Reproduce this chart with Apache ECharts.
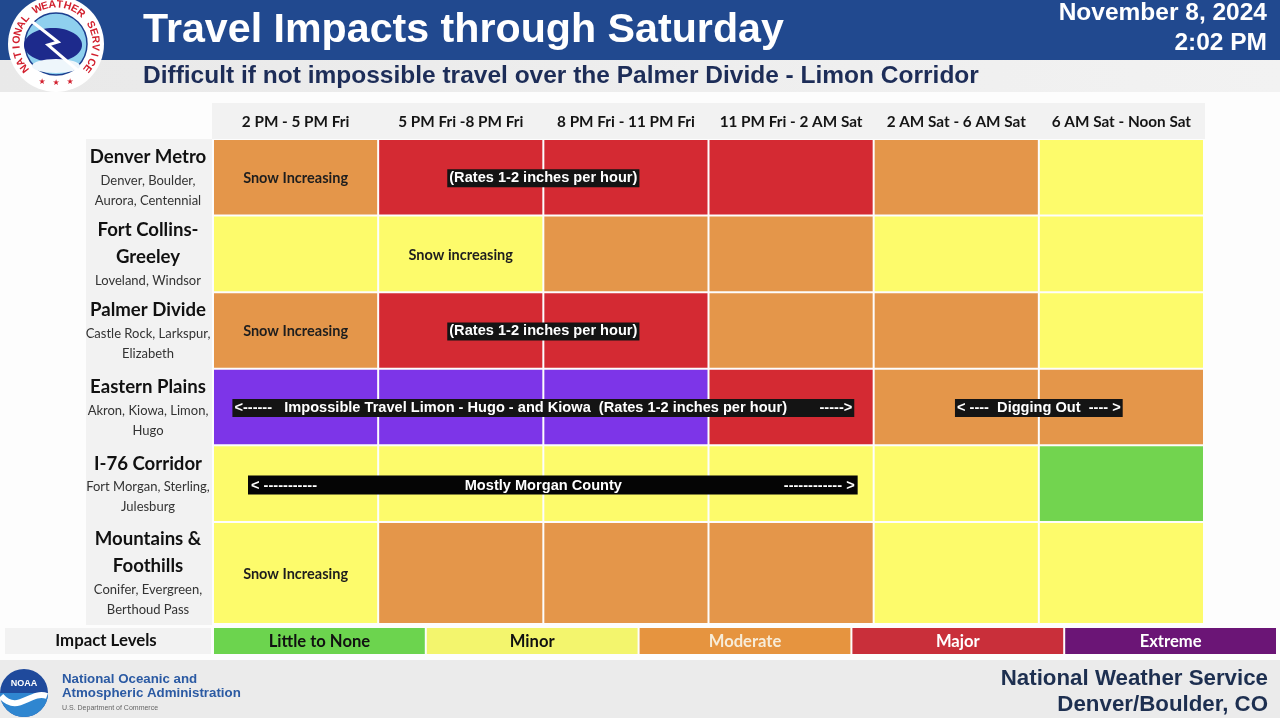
<!DOCTYPE html>
<html>
<head>
<meta charset="utf-8">
<script src="https://cdn.jsdelivr.net/npm/echarts@6/dist/echarts.min.js"></script>
<style>
html,body{margin:0;padding:0;background:#fdfdfd;}
#chart{width:1280px;height:718px;}
</style>
</head>
<body>
<div id="chart"></div>
<script>
// ---------- DATA ----------
const timePeriods = ['2 PM - 5 PM Fri', '5 PM Fri -8 PM Fri', '8 PM Fri - 11 PM Fri', '11 PM Fri - 2 AM Sat', '2 AM Sat - 6 AM Sat', '6 AM Sat - Noon Sat'];
const regionNames = [['Denver Metro'], ['Fort Collins-', 'Greeley'], ['Palmer Divide'], ['Eastern Plains'], ['I-76 Corridor'], ['Mountains &', 'Foothills']];
const regionTowns = [['Denver, Boulder,', 'Aurora, Centennial'], ['Loveland, Windsor'], ['Castle Rock, Larkspur,', 'Elizabeth'], ['Akron, Kiowa, Limon,', 'Hugo'], ['Fort Morgan, Sterling,', 'Julesburg'], ['Conifer, Evergreen,', 'Berthoud Pass']];
const impactLevels = ['Little to None', 'Minor', 'Moderate', 'Major', 'Extreme'];
// impact level index per time period (0 = Little to None ... 4 = Extreme)
const denverMetro   = [2, 3, 3, 3, 2, 1];
const fortCollins   = [1, 1, 2, 2, 1, 1];
const palmerDivide  = [2, 3, 3, 2, 2, 1];
const easternPlains = [4, 4, 4, 3, 2, 2];
const i76Corridor   = [1, 1, 1, 1, 1, 0];
const mountains     = [1, 2, 2, 2, 1, 1];
const impactRows = [denverMetro, fortCollins, palmerDivide, easternPlains, i76Corridor, mountains];
// cell notes: [row, first period, last period, text, kind]
const cellNotes = [
  [0, 0, 0, 'Snow Increasing', 'plain'],
  [0, 1, 2, '(Rates 1-2 inches per hour)', 'tag'],
  [1, 1, 1, 'Snow increasing', 'plain'],
  [2, 0, 0, 'Snow Increasing', 'plain'],
  [2, 1, 2, '(Rates 1-2 inches per hour)', 'tag'],
  [3, 0, 3, '<------   Impossible Travel Limon - Hugo - and Kiowa  (Rates 1-2 inches per hour)        ----->', 'tag'],
  [3, 4, 5, '< ----  Digging Out  ---- >', 'tag'],
  [4, 0, 3, 'Mostly Morgan County', 'span'],
  [5, 0, 0, 'Snow Increasing', 'plain']
];

// ---------- STYLE ----------
const cellColors = ['#72d44f', '#fdfb6b', '#e4964a', '#d42a33', '#7d35e8'];
const legendColors = ['#6cd44e', '#f3f56d', '#e6943f', '#c92f3a', '#6b1576'];
const legendText = ['#111', '#111', '#f7ecd8', '#fff', '#fff'];
const G = {left: 213, right: 76, top: 139, bottom: 94};

// rows sized by the number of text lines in their label
const rowUnits = regionNames.map((n, i) => Math.max(3, n.length + regionTowns[i].length));
const rowStart = [];
let acc = 0;
rowUnits.forEach(u => { rowStart.push(acc); acc += u; });
const totalUnits = acc;

const cellData = [];
impactRows.forEach((row, r) => row.forEach((lv, c) => cellData.push([c, rowStart[r], rowStart[r] + rowUnits[r], lv])));
const labelData = regionNames.map((n, r) => [0, rowStart[r], rowStart[r] + rowUnits[r], r]);
const noteData = cellNotes.map((n, i) => [n[1], rowStart[n[0]], rowStart[n[0]] + rowUnits[n[0]], n[2], i]);
const legendData = impactLevels.map((l, i) => [i, 0, i]);

const cellFont = 'Lato, "Open Sans", sans-serif';
const tagFont = 'bold 14.6px "Liberation Sans", Arial, sans-serif';
const arialB = (s) => 'bold ' + s + 'px "Liberation Sans", Arial, sans-serif';

// NWS seal ring lettering (decoration)
const sealText = 'NATIONAL WEATHER SERVICE';
const sealGraphics = [];
(function () {
  const cx = 56, cy = 44, r = 39.5;
  const startA = -128 * Math.PI / 180, endA = 128 * Math.PI / 180;
  const n = sealText.length;
  for (let i = 0; i < n; i++) {
    const th = startA + (endA - startA) * i / (n - 1);
    sealGraphics.push({type: 'text', z: 8, x: cx + r * Math.sin(th), y: cy - r * Math.cos(th), rotation: -th,
      style: {text: sealText[i], font: arialB(10.5), fill: '#d21f2d', align: 'center', verticalAlign: 'middle'}});
  }
  [-14, 0, 14].forEach(dx => sealGraphics.push({type: 'text', z: 8, x: cx + dx, y: cy + 39 - Math.abs(dx) * 0.1,
    style: {text: '★', font: '8px "DejaVu Sans"', fill: '#d21f2d', align: 'center', verticalAlign: 'middle'}}));
})();

const chart = echarts.init(document.getElementById('chart'));
chart.setOption({
  animation: false,
  backgroundColor: '#fdfdfd',
  grid: [
    {left: G.left, right: G.right, top: G.top, bottom: G.bottom},
    {left: 213, right: 3, top: 628, height: 26}
  ],
  xAxis: [
    {type: 'category', gridIndex: 0, data: timePeriods, position: 'top',
     axisLine: {show: false}, axisTick: {show: false},
     axisLabel: {interval: 0, margin: 9, fontFamily: cellFont, fontWeight: 'bold', fontSize: 15.3, color: '#151515'}},
    {type: 'category', gridIndex: 1, data: impactLevels, show: false}
  ],
  yAxis: [
    {type: 'value', gridIndex: 0, min: 0, max: totalUnits, inverse: true, show: false},
    {type: 'category', gridIndex: 1, data: ['Impact Levels'], show: false}
  ],
  graphic: [
    {type: 'rect', z: 0, shape: {x: 0, y: 0, width: 1280, height: 60}, style: {fill: '#21498f'}},
    {type: 'rect', z: 0, shape: {x: 0, y: 60, width: 1280, height: 32},
     style: {fill: new echarts.graphic.LinearGradient(0, 0, 1, 0, [{offset: 0, color: '#e9e9e9'}, {offset: 1, color: '#f2f2f2'}])}},
    {type: 'text', z: 5, x: 143, y: 31, style: {text: 'Travel Impacts through Saturday', font: arialB(41.2), fill: '#fff', verticalAlign: 'middle'}},
    {type: 'text', z: 5, x: 143, y: 76, style: {text: 'Difficult if not impossible travel over the Palmer Divide - Limon Corridor', font: arialB(24.5), fill: '#1d2d58', verticalAlign: 'middle'}},
    {type: 'text', z: 5, x: 1267, y: 13, style: {text: 'November 8, 2024', font: arialB(24.5), fill: '#fff', align: 'right', verticalAlign: 'middle'}},
    {type: 'text', z: 5, x: 1267, y: 43, style: {text: '2:02 PM', font: arialB(24.5), fill: '#fff', align: 'right', verticalAlign: 'middle'}},
    // NWS logo (simplified)
    {type: 'circle', z: 5, shape: {cx: 56, cy: 44, r: 48}, style: {fill: '#fff'}},
    {type: 'circle', z: 5, shape: {cx: 56, cy: 44, r: 31}, style: {fill: '#8fd0ee', stroke: '#1c3f8f', lineWidth: 1.5}},
    {type: 'ellipse', z: 6, shape: {cx: 53, cy: 45, rx: 29, ry: 17}, style: {fill: '#1d2a8c'}},
    {type: 'ellipse', z: 6, shape: {cx: 56, cy: 66, rx: 24, ry: 7}, style: {fill: '#eef6fb'}},
    {type: 'polyline', z: 7, shape: {points: [[30, 20], [58, 42], [48, 45], [82, 74]]}, style: {stroke: '#fff', lineWidth: 3, fill: null}},
    ...sealGraphics,
    // table decorations
    {type: 'rect', z: 0, shape: {x: 212, y: 103, width: 993, height: 36}, style: {fill: '#f2f2f2'}},
    {type: 'rect', z: 0, shape: {x: 86, y: 139, width: 126, height: 486}, style: {fill: '#f2f2f2'}},
    {type: 'rect', z: 0, shape: {x: 5, y: 628, width: 206, height: 26}, style: {fill: '#f2f2f2'}},
    {type: 'text', z: 5, x: 106, y: 641, style: {text: 'Impact Levels', font: 'bold 16.8px Lato, sans-serif', fill: '#111', align: 'center', verticalAlign: 'middle'}},
    // footer
    {type: 'rect', z: 0, shape: {x: 0, y: 660, width: 1280, height: 58}, style: {fill: '#ebebeb'}},
    {type: 'circle', z: 5, shape: {cx: 24, cy: 693, r: 24}, style: {fill: '#1f4a9c'}},
    {type: 'sector', z: 6, shape: {cx: 24, cy: 693, r: 24, startAngle: 0, endAngle: Math.PI}, style: {fill: '#2f86d0'}},
    {type: 'bezierCurve', z: 7, shape: {x1: 1, y1: 696, x2: 47, y2: 696, cpx1: 18, cpy1: 715, cpx2: 30, cpy2: 690}, style: {stroke: '#fff', lineWidth: 6, fill: null}},
    {type: 'text', z: 7, x: 24, y: 684, style: {text: 'NOAA', font: arialB(9), fill: '#fff', align: 'center', verticalAlign: 'middle'}},
    {type: 'text', z: 5, x: 62, y: 679, style: {text: 'National Oceanic and', font: arialB(13.3), fill: '#2b5aa3', verticalAlign: 'middle'}},
    {type: 'text', z: 5, x: 62, y: 693, style: {text: 'Atmospheric Administration', font: arialB(13.3), fill: '#2b5aa3', verticalAlign: 'middle'}},
    {type: 'text', z: 5, x: 62, y: 708, style: {text: 'U.S. Department of Commerce', font: '7px "Liberation Sans", Arial, sans-serif', fill: '#666', verticalAlign: 'middle'}},
    {type: 'text', z: 5, x: 1268, y: 679, style: {text: 'National Weather Service', font: arialB(22.3), fill: '#1d2f50', align: 'right', verticalAlign: 'middle'}},
    {type: 'text', z: 5, x: 1268, y: 705, style: {text: 'Denver/Boulder, CO', font: arialB(22.3), fill: '#1d2f50', align: 'right', verticalAlign: 'middle'}}
  ],
  series: [
    {
      type: 'custom', name: 'cells', xAxisIndex: 0, yAxisIndex: 0, data: cellData,
      encode: {x: 0, y: [1, 2]},
      renderItem: function (params, api) {
        const c = api.value(0), lv = api.value(3);
        const p0 = api.coord([c, api.value(1)]), p1 = api.coord([c, api.value(2)]);
        const w = api.size([1, 0])[0];
        return {type: 'rect', shape: {x: p0[0] - w / 2 + 1, y: p0[1] + 1, width: w - 2, height: p1[1] - p0[1] - 2},
                style: {fill: cellColors[lv]}};
      }
    },
    {
      type: 'custom', name: 'regions', xAxisIndex: 0, yAxisIndex: 0, data: labelData,
      encode: {x: 0, y: [1, 2]},
      renderItem: function (params, api) {
        const r = api.value(3);
        const p0 = api.coord([0, api.value(1)]), p1 = api.coord([0, api.value(2)]);
        const w = api.size([1, 0])[0];
        const cx = p0[0] - w / 2 - 65;
        const txt = regionNames[r].map(t => '{t|' + t + '}').join('\n') + '\n' + regionTowns[r].map(t => '{s|' + t + '}').join('\n');
        return {type: 'text', x: cx, y: (p0[1] + p1[1]) / 2,
          style: {text: txt, align: 'center', verticalAlign: 'middle',
            rich: {t: {fontFamily: cellFont, fontWeight: 'bold', fontSize: 18.6, lineHeight: 27, fill: '#111'},
                   s: {fontFamily: cellFont, fontSize: 13, lineHeight: 20, fill: '#333'}}}};
      }
    },
    {
      type: 'custom', name: 'notes', xAxisIndex: 0, yAxisIndex: 0, data: noteData, z: 5,
      encode: {x: 0, y: [1, 2]},
      renderItem: function (params, api) {
        const note = cellNotes[api.value(4)];
        const c0 = api.value(0), c1 = api.value(3);
        const a = api.coord([c0, api.value(1)]), b = api.coord([c1, api.value(2)]);
        const w = api.size([1, 0])[0];
        const x0 = a[0] - w / 2, x1 = b[0] + w / 2;
        const cx = (x0 + x1) / 2, cy = (a[1] + b[1]) / 2;
        if (note[4] === 'plain') {
          return {type: 'text', x: cx, y: cy + 1, style: {text: note[3], font: 'bold 14.5px Lato, sans-serif', fill: '#1e1e1e', align: 'center', verticalAlign: 'middle'}};
        }
        if (note[4] === 'tag') {
          return {type: 'text', x: cx, y: cy + 1, style: {text: note[3], font: tagFont, fill: '#fff',
                  backgroundColor: '#141414', padding: [2, 2, 1, 2], align: 'center', verticalAlign: 'middle'}};
        }
        const bx0 = x0 + 35, bx1 = x1 - 16;
        return {type: 'group', children: [
          {type: 'rect', shape: {x: bx0, y: cy - 8, width: bx1 - bx0, height: 19}, style: {fill: '#050505'}},
          {type: 'text', x: bx0 + 3, y: cy + 2, style: {text: '< -----------', font: tagFont, fill: '#fff', verticalAlign: 'middle'}},
          {type: 'text', x: cx, y: cy + 2, style: {text: note[3], font: tagFont, fill: '#fff', align: 'center', verticalAlign: 'middle'}},
          {type: 'text', x: bx1 - 3, y: cy + 2, style: {text: '------------ >', font: tagFont, fill: '#fff', align: 'right', verticalAlign: 'middle'}}
        ]};
      }
    },
    {
      type: 'custom', name: 'legend', xAxisIndex: 1, yAxisIndex: 1, data: legendData,
      encode: {x: 0, y: 1},
      renderItem: function (params, api) {
        const i = api.value(2);
        const p = api.coord([api.value(0), api.value(1)]);
        const s = api.size([1, 1]);
        return {type: 'group', children: [
          {type: 'rect', shape: {x: p[0] - s[0] / 2 + 1, y: p[1] - s[1] / 2, width: s[0] - 2, height: s[1]}, style: {fill: legendColors[i]}},
          {type: 'text', x: p[0], y: p[1] + 1, style: {text: impactLevels[i], font: 'bold 16.6px Lato, sans-serif', fill: legendText[i], align: 'center', verticalAlign: 'middle'}}
        ]};
      }
    }
  ]
});
</script>
</body>
</html>
